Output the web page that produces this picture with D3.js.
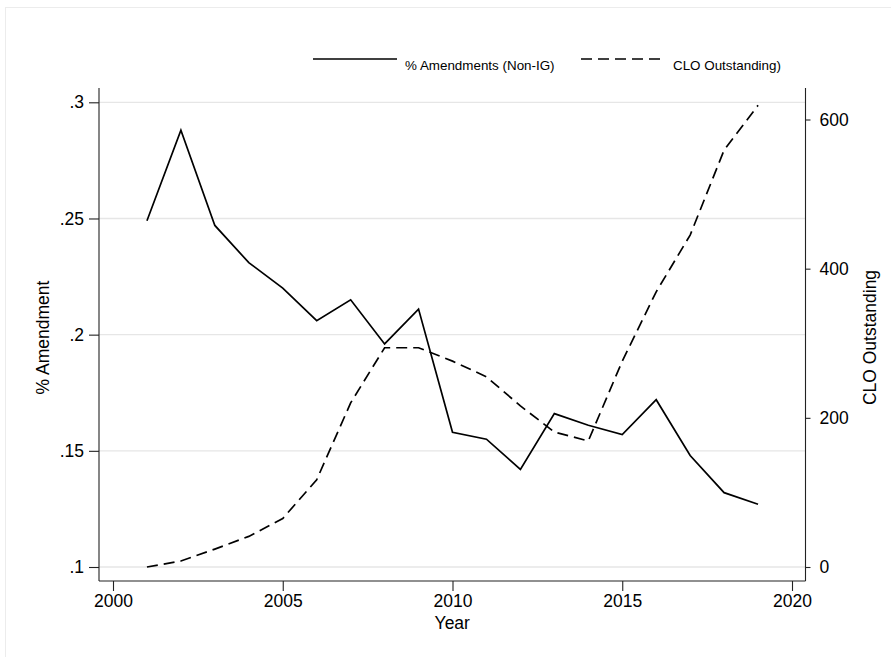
<!DOCTYPE html>
<html>

<head>
  <title>Amendments and CLO</title>
  <script src="https://cdn.jsdelivr.net/npm/d3@7"></script>
  <style>
    body { margin: 0; background: #fff; }
    text { font-family: "Liberation Sans", Arial, Helvetica, sans-serif; fill: #000; }
  </style>
</head>

<body>
  <svg width="891" height="657" id="mainsvg"></svg>
  <script>
    // data
    const years = [2001, 2002, 2003, 2004, 2005, 2006, 2007, 2008, 2009, 2010,
      2011, 2012, 2013, 2014, 2015, 2016, 2017, 2018, 2019];
    const amendShare = [0.249, 0.288, 0.247, 0.231, 0.220, 0.206, 0.215, 0.196, 0.211, 0.158,
      0.155, 0.142, 0.166, 0.161, 0.157, 0.172, 0.148, 0.132, 0.127];
    const cloOutstanding = [0, 8, 24, 41, 65, 117, 220, 294, 294, 276,
      255, 216, 181, 169, 276, 369, 445, 559, 619];
    const xTicks = [2000, 2005, 2010, 2015, 2020];
    const leftTicks = [0.1, 0.15, 0.2, 0.25, 0.3];
    const leftTickLabels = ['.1', '.15', '.2', '.25', '.3'];
    const rightTicks = [0, 200, 400, 600];
    const legendNames = ['% Amendments (Non-IG)', 'CLO Outstanding)'];

    const svg = d3.select('#mainsvg');
    const width = +svg.attr('width');
    const height = +svg.attr('height');

    const frame = { left: 99, right: 805.5, top: 88, bottom: 581 };

    const x = d3.scaleLinear().domain([2000, 2020]).range([113, 792]);
    const yL = d3.scaleLinear().domain([0.1, 0.3]).range([567, 102.3]);
    const yR = d3.scaleLinear().domain([0, 600]).range([567, 119.5]);

    // outer light border
    svg.append('rect')
      .attr('x', 5.5).attr('y', 7.5)
      .attr('width', 900).attr('height', 700)
      .attr('fill', 'none').attr('stroke', '#ececec').attr('stroke-width', 1);

    // gridlines
    svg.append('g')
      .selectAll('line')
      .data(leftTicks)
      .join('line')
      .attr('x1', frame.left).attr('x2', frame.right)
      .attr('y1', d => yL(d)).attr('y2', d => yL(d))
      .attr('stroke', '#e6e6e6').attr('stroke-width', 1.3);

    // axes
    const fontSize = 17.5;
    const gx = svg.append('g')
      .attr('transform', `translate(0, ${frame.bottom})`)
      .call(d3.axisBottom(x).tickValues(xTicks).tickFormat(d3.format('d'))
        .tickSizeOuter(0).tickSizeInner(10).tickPadding(4));
    gx.select('.domain').attr('d', `M${frame.left},0H${frame.right}`);

    const gl = svg.append('g')
      .attr('transform', `translate(${frame.left}, 0)`)
      .call(d3.axisLeft(yL).tickValues(leftTicks)
        .tickFormat((d, i) => leftTickLabels[i])
        .tickSizeOuter(0).tickSizeInner(10).tickPadding(5));
    gl.select('.domain').attr('d', `M0,${frame.top}V${frame.bottom}`);

    const gr = svg.append('g')
      .attr('transform', `translate(${frame.right}, 0)`)
      .call(d3.axisRight(yR).tickValues(rightTicks).tickFormat(d3.format('d'))
        .tickSizeOuter(0).tickSizeInner(5).tickPadding(9));
    gr.select('.domain').attr('d', `M0,${frame.top}V${frame.bottom}`);

    svg.selectAll('.domain, .tick line').attr('stroke', '#222').attr('stroke-width', 1.1);
    svg.selectAll('.tick text')
      .attr('font-size', fontSize)
      .attr('font-family', '"Liberation Sans", Arial, sans-serif')
      .attr('fill', '#000');

    // axis titles
    svg.append('text')
      .attr('x', (frame.left + frame.right) / 2).attr('y', 629)
      .attr('text-anchor', 'middle').attr('font-size', fontSize)
      .text('Year');
    svg.append('text')
      .attr('transform', `translate(49, ${(102 + 567) / 2 + 3}) rotate(-90)`)
      .attr('text-anchor', 'middle').attr('font-size', fontSize)
      .text('% Amendment');
    svg.append('text')
      .attr('transform', `translate(876, ${(102 + 567) / 2 + 3}) rotate(-90)`)
      .attr('text-anchor', 'middle').attr('font-size', fontSize)
      .text('CLO Outstanding');

    // series
    const amendLine = d3.line()
      .x((d, i) => x(years[i]))
      .y(d => yL(d));
    const cloLine = d3.line()
      .x((d, i) => x(years[i]))
      .y(d => yR(d));

    svg.append('path')
      .datum(amendShare)
      .attr('d', amendLine)
      .attr('fill', 'none').attr('stroke', '#000').attr('stroke-width', 1.7)
      .attr('stroke-linejoin', 'miter');

    svg.append('path')
      .datum(cloOutstanding)
      .attr('d', cloLine)
      .attr('fill', 'none').attr('stroke', '#000').attr('stroke-width', 1.7)
      .attr('stroke-dasharray', '11,6');

    // legend
    const legend = svg.append('g');
    const legendItems = [
      { name: legendNames[0], x: 313, dash: null },
      { name: legendNames[1], x: 581, dash: '11,6' }
    ];
    legendItems.forEach(it => {
      legend.append('line')
        .attr('x1', it.x).attr('x2', it.x + 84)
        .attr('y1', 59).attr('y2', 59)
        .attr('stroke', '#000').attr('stroke-width', 1.7)
        .attr('stroke-dasharray', it.dash);
      legend.append('text')
        .attr('x', it.x + 92).attr('y', 70)
        .attr('font-size', 13.4)
        .text(it.name);
    });
  </script>
</body>

</html>
